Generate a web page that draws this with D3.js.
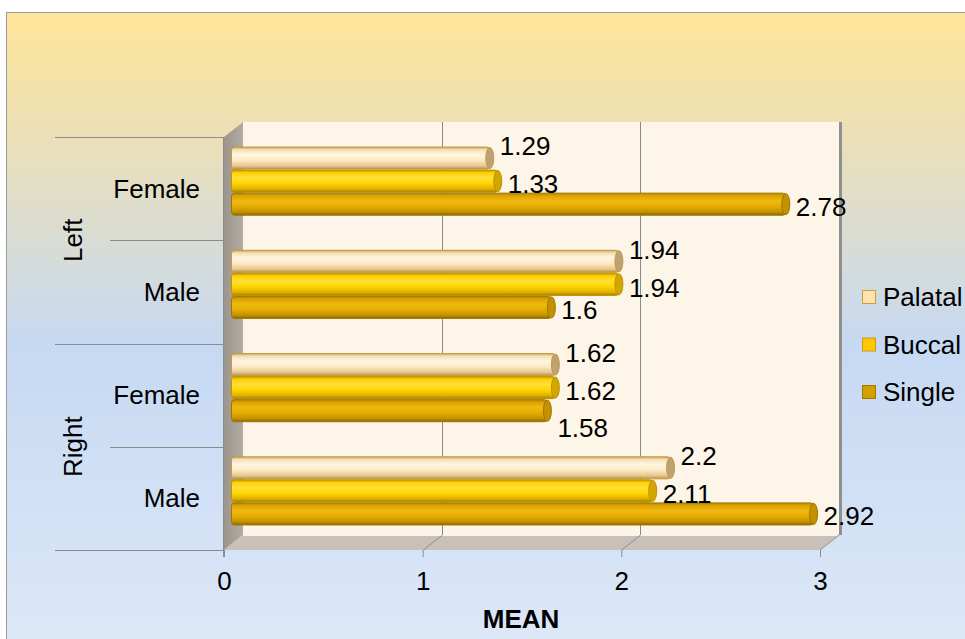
<!DOCTYPE html>
<meta charset="utf-8">
<style>
body { margin: 0; background: #fff; }
text { font-family: "Liberation Sans", Arial, sans-serif; fill: #000; }
</style>
<svg id="chart" width="965" height="639"></svg>
<script src="https://d3js.org/d3.v7.min.js"></script>
<script>

// data
var categories = ["Left|Female", "Left|Male", "Right|Female", "Right|Male"];
var groups = ["Left", "Right"];
var subLabels = ["Female", "Male", "Female", "Male"];
var seriesNames = ["Palatal", "Buccal", "Single"];
var palatal = [1.29, 1.94, 1.62, 2.2];
var buccal = [1.33, 1.94, 1.62, 2.11];
var single = [2.78, 1.6, 1.58, 2.92];
var xTicks = [0, 1, 2, 3];

var values = [palatal, buccal, single];

var svg = d3.select("#chart");
var fontSize = 26;

// plot frame (front plane) + 3d depth
var pLeft = 224, pRight = 820, pTop = 137, pBottom = 550;
var dx = 19, dy = -15;

var x = d3.scaleLinear().domain([0, 3]).range([pLeft, pRight]);
var y0 = d3.scaleBand().domain(categories).range([pTop, pBottom])
    .paddingInner(0.33).paddingOuter(0.165);
var y1 = d3.scaleBand().domain(seriesNames).range([0, y0.bandwidth()]);

var defs = svg.append("defs");

// background gradient
var bg = defs.append("linearGradient").attr("id", "bg")
    .attr("x1", 0).attr("y1", 0).attr("x2", 0).attr("y2", 1);
[[0, "#FFE599"], [0.17, "#EEE0B3"], [0.52, "#C6D9F2"], [1, "#DDE8F8"]].forEach(function(s) {
  bg.append("stop").attr("offset", s[0]).attr("stop-color", s[1]);
});

var wallGrad = defs.append("linearGradient").attr("id", "wall")
    .attr("x1", 0).attr("y1", 0).attr("x2", 1).attr("y2", 0);
wallGrad.append("stop").attr("offset", 0).attr("stop-color", "#9c958e");
wallGrad.append("stop").attr("offset", 1).attr("stop-color", "#b2aba4");

var barStops = {
  Palatal: [[0, "#C9A55A"], [0.12, "#F5DFB4"], [0.35, "#FFF6E2"], [0.6, "#FCE9C4"], [0.85, "#E8C88E"], [1, "#B8944A"]],
  Buccal: [[0, "#C49C00"], [0.12, "#FFCF00"], [0.35, "#FFE03A"], [0.6, "#FFD500"], [0.85, "#E2B200"], [1, "#A38000"]],
  Single: [[0, "#B08600"], [0.12, "#DDA300"], [0.35, "#F0B812"], [0.6, "#E6AD00"], [0.85, "#C59100"], [1, "#8C6A00"]]
};
var capColor = { Palatal: "#BFA274", Buccal: "#D2A600", Single: "#C29200" };
var edgeColor = { Palatal: "#C29A45", Buccal: "#C09400", Single: "#9E7800" };
var swatch = {
  Palatal: ["#FFE2AE", "#C8A040"],
  Buccal: ["#FFC800", "#C89A20"],
  Single: ["#D4A000", "#A07800"]
};

seriesNames.forEach(function(s) {
  var g = defs.append("linearGradient").attr("id", "grad" + s)
      .attr("x1", 0).attr("y1", 0).attr("x2", 0).attr("y2", 1);
  barStops[s].forEach(function(st) {
    g.append("stop").attr("offset", st[0]).attr("stop-color", st[1]);
  });
});

svg.append("rect")
    .attr("x", 6.5).attr("y", 12.5)
    .attr("width", 970).attr("height", 640)
    .attr("fill", "url(#bg)")
    .attr("stroke", "#9a9a9a");

// back wall
svg.append("rect")
    .attr("x", pLeft + dx).attr("y", pTop + dy)
    .attr("width", pRight - pLeft).attr("height", pBottom - pTop)
    .attr("fill", "#FDF5E7");

// left side wall
svg.append("path")
    .attr("d", "M" + pLeft + "," + pTop + "L" + (pLeft + dx) + "," + (pTop + dy) +
      "L" + (pLeft + dx) + "," + (pBottom + dy) + "L" + pLeft + "," + pBottom + "Z")
    .attr("fill", "url(#wall)");

// floor
svg.append("path")
    .attr("d", "M" + pLeft + "," + pBottom + "L" + (pLeft + dx) + "," + (pBottom + dy) +
      "L" + (pRight + dx) + "," + (pBottom + dy) + "L" + pRight + "," + pBottom + "Z")
    .attr("fill", "#C9C1B8");
svg.append("line")
    .attr("x1", pLeft + dx).attr("x2", pRight + dx)
    .attr("y1", pBottom + dy + 0.5).attr("y2", pBottom + dy + 0.5)
    .attr("stroke", "#fff").attr("stroke-opacity", 0.8);

// right edge of back wall
svg.append("line")
    .attr("x1", pRight + dx + 1.5).attr("x2", pRight + dx + 1.5)
    .attr("y1", pTop + dy).attr("y2", pBottom + dy)
    .attr("stroke", "#8f8f8f").attr("stroke-width", 3);
svg.append("line")
    .attr("x1", pRight + dx).attr("y1", pBottom + dy)
    .attr("x2", pRight).attr("y2", pBottom)
    .attr("stroke", "#a9a9a9").attr("stroke-width", 1.5);

// gridlines on back wall and floor
svg.append("g").selectAll("path")
    .data(xTicks.filter(function(d) { return d > 0 && d < 3; }))
    .enter().append("path")
      .attr("d", function(d) {
        var px = Math.round(x(d)) + 0.5;
        return "M" + px + "," + pBottom + "L" + (px + dx) + "," + (pBottom + dy) +
          "L" + (px + dx) + "," + (pTop + dy);
      })
      .attr("fill", "none")
      .attr("stroke", "#8a8a8a");

// category axis lines
svg.append("g").selectAll("line")
    .data(d3.range(categories.length + 1))
    .enter().append("line")
      .attr("x1", function(i) { return i % 2 === 0 ? 55 : 110; })
      .attr("x2", pLeft)
      .attr("y1", function(i) { return Math.round(pTop + i * y0.step()) + 0.5; })
      .attr("y2", function(i) { return Math.round(pTop + i * y0.step()) + 0.5; })
      .attr("stroke", "#8c8c8c");
svg.append("line")
    .attr("x1", pLeft - 0.5).attr("x2", pLeft - 0.5)
    .attr("y1", pTop).attr("y2", pBottom + 7)
    .attr("stroke", "#8c8c8c");

// bars as cylinders at mid depth
var bdx = dx / 2, bdy = dy / 2;
var bh = y1.bandwidth();
var labelDy = { Palatal: -12, Buccal: 3, Single: 2 };

var rows = [];
categories.forEach(function(c, ci) {
  var prev = null;
  seriesNames.forEach(function(s, si) {
    var v = values[si][ci];
    var r = { cat: c, series: s, si: si, value: v };
    r.y = y0(c) + y1(s) + bdy;
    r.lx = x(v) + bdx + 10;
    r.ly = r.y + bh / 2 + labelDy[s];
    // push a label down if it would sit on the one above it
    if (prev && Math.abs(r.lx - prev.lx) < 50 && r.ly - prev.ly < 26) {
      r.ly = prev.ly + 37;
    }
    prev = r;
    rows.push(r);
  });
});

var bar = svg.append("g").selectAll("g")
    .data(rows)
    .enter().append("g")
      .attr("transform", function(d) { return "translate(0," + d.y + ")"; });

bar.append("rect")
    .attr("x", x(0) + bdx - 2)
    .attr("y", 0.5)
    .attr("width", function(d) { return x(d.value) - x(0) + 2; })
    .attr("height", bh - 1)
    .attr("rx", 3)
    .attr("fill", function(d) { return "url(#grad" + d.series + ")"; })
    .attr("stroke", function(d) { return edgeColor[d.series]; })
    .attr("stroke-width", 1);

bar.append("ellipse")
    .attr("cx", function(d) { return x(d.value) + bdx; })
    .attr("cy", bh / 2)
    .attr("rx", 4)
    .attr("ry", bh / 2 - 1)
    .attr("fill", function(d) { return capColor[d.series]; })
    .attr("stroke", function(d) { return edgeColor[d.series]; });

// data labels
svg.append("g").selectAll("text")
    .data(rows)
    .enter().append("text")
      .attr("x", function(d) { return d.lx; })
      .attr("y", function(d) { return d.ly; })
      .attr("dy", "0.36em")
      .style("font-size", fontSize + "px")
      .text(function(d) { return d.value; });

// x axis
var xAxis = d3.axisBottom(x).tickValues(xTicks).tickSize(7).tickPadding(15)
    .tickFormat(d3.format("d"));
var gx = svg.append("g")
    .attr("transform", "translate(0," + pBottom + ")")
    .call(xAxis);
gx.select(".domain").remove();
gx.selectAll(".tick line").attr("stroke", "#8c8c8c");
gx.selectAll(".tick text")
    .style("font-size", fontSize + "px")
    .style("font-family", "'Liberation Sans', Arial, sans-serif")
    .attr("fill", "#000");

svg.append("text")
    .attr("x", 521).attr("y", 628)
    .attr("text-anchor", "middle")
    .style("font-size", fontSize + "px")
    .style("font-weight", "bold")
    .text("MEAN");

// category labels
svg.append("g").selectAll("text")
    .data(categories)
    .enter().append("text")
      .attr("x", 200)
      .attr("y", function(c) { return y0(c) + y0.bandwidth() / 2 + 9; })
      .attr("text-anchor", "end")
      .style("font-size", fontSize + "px")
      .text(function(c, i) { return subLabels[i]; });

svg.append("g").selectAll("text")
    .data(groups)
    .enter().append("text")
      .attr("transform", function(g, i) {
        var cy = pTop + (i * 2 + 1) * y0.step();
        return "translate(82," + cy + ") rotate(-90)";
      })
      .attr("text-anchor", "middle")
      .style("font-size", fontSize + "px")
      .text(function(g) { return g; });

// legend
var legend = svg.append("g").selectAll("g")
    .data(seriesNames)
    .enter().append("g")
      .attr("transform", function(s, i) { return "translate(862," + (297 + i * 47.5) + ")"; });

legend.append("rect")
    .attr("x", 0.5).attr("y", -6.5)
    .attr("width", 13).attr("height", 13)
    .attr("fill", function(s) { return swatch[s][0]; })
    .attr("stroke", function(s) { return swatch[s][1]; });

legend.append("text")
    .attr("x", 21).attr("y", 9)
    .style("font-size", fontSize + "px")
    .text(function(s) { return s; });

</script>
